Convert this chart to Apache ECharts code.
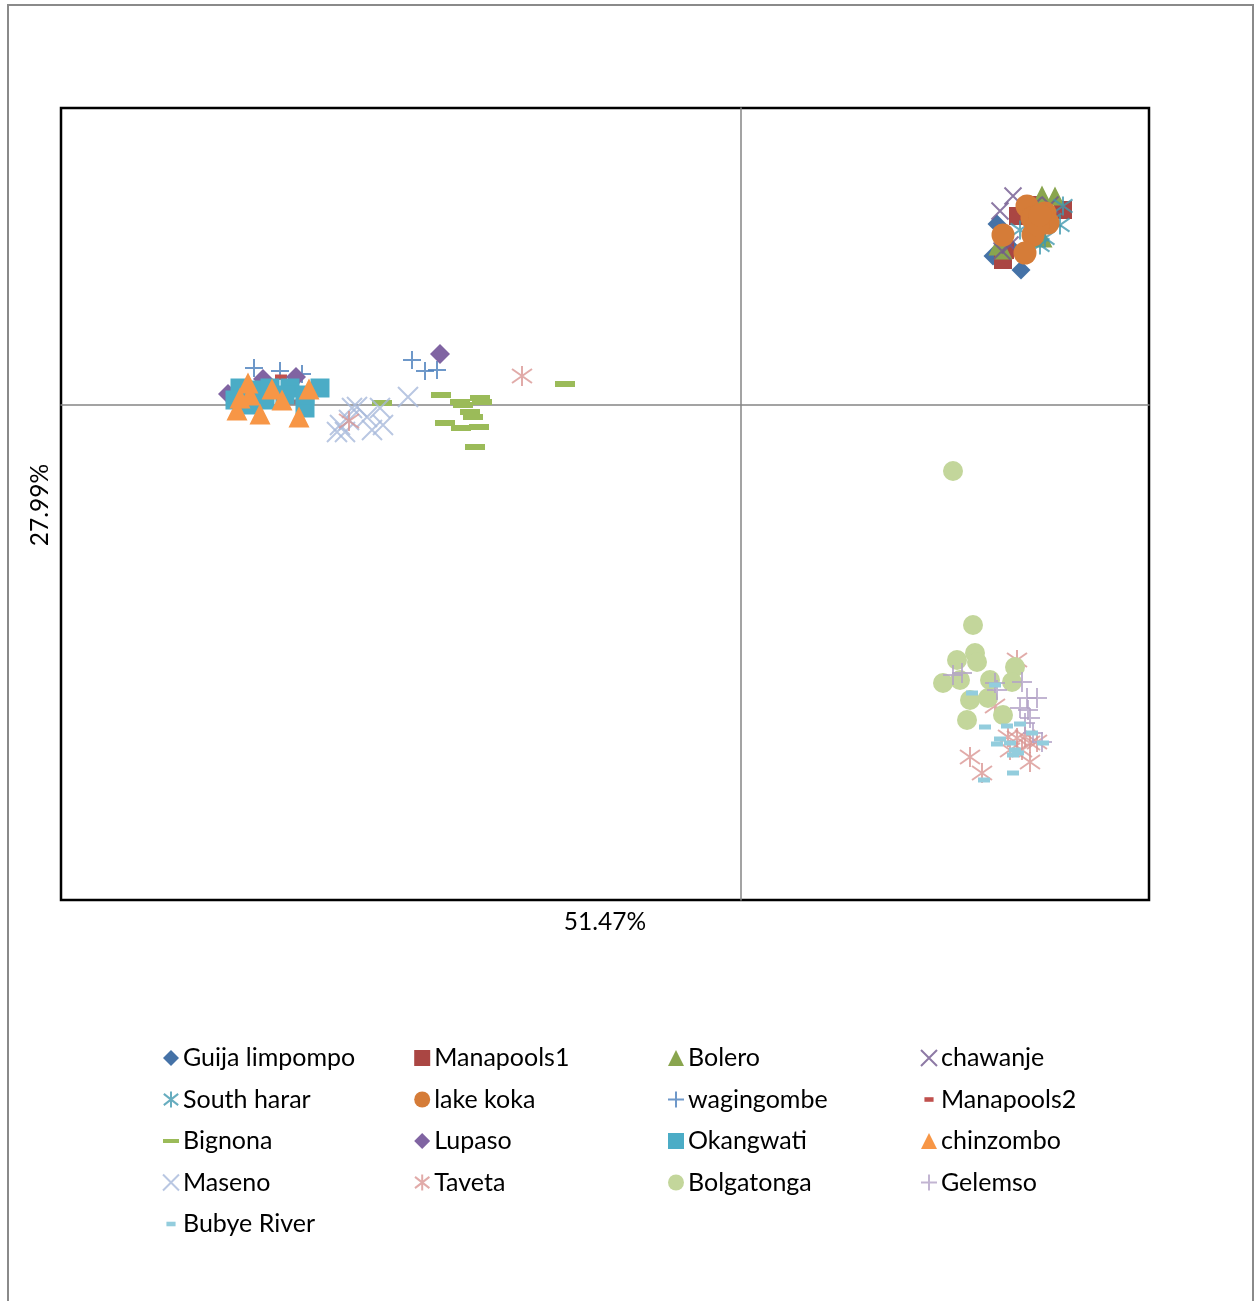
<!DOCTYPE html>
<html>
<head>
<meta charset="utf-8">
<script src="https://cdn.jsdelivr.net/npm/echarts@6/dist/echarts.min.js"></script>
<style>html,body{margin:0;padding:0;background:#fff}#c{width:1255px;height:1301px}</style>
</head>
<body>
<div id="c"></div>
<script>
// PCA scores (arbitrary units)
const xAxisLabel = '51.47%';
const yAxisLabel = '27.99%';
const seriesNames = ['Guija limpompo','Manapools1','Bolero','chawanje','South harar','lake koka','wagingombe','Manapools2','Bignona','Lupaso','Okangwati','chinzombo','Maseno','Taveta','Bolgatonga','Gelemso','Bubye River'];

const guijaLimpompo = [[2.56,1.81],[2.52,1.49],[2.80,1.35],[2.69,1.58]];
const manapools1 = [[2.77,1.89],[2.62,1.45],[3.22,1.95],[2.64,1.55],[2.94,2.00]];
const bolero = [[3.01,2.10],[3.14,2.09],[2.62,1.55],[3.02,1.67],[2.57,1.59]];
const chawanje = [[2.72,2.09],[2.59,1.94],[2.61,1.54],[2.69,1.60],[2.92,1.99],[3.09,2.00]];
const southHarar = [[3.22,1.99],[3.19,1.80],[3.11,1.85],[2.92,1.75],[2.99,1.60],[3.04,1.67],[2.79,1.75]];
const lakeKoka = [[2.86,1.99],[2.91,1.87],[3.04,1.92],[3.07,1.82],[2.62,1.70],[2.92,1.70],[2.84,1.52],[2.97,1.80],[2.99,1.90]];
const wagingombe = [[-4.87,0.37],[-4.61,0.34],[-4.39,0.31],[-3.29,0.45],[-3.16,0.34],[-3.04,0.35]];
const manapools2 = [[-4.60,0.28],[-4.51,0.03]];
const bignona = [[-3.00,0.10],[-2.81,0.03],[-2.78,0.00],[-2.61,0.07],[-2.59,0.03],[-2.71,-0.07],[-2.68,-0.12],[-2.96,-0.18],[-2.80,-0.23],[-2.62,-0.22],[-2.66,-0.42],[-3.59,0.02],[-1.76,0.21]];
const lupaso = [[-5.13,0.11],[-4.78,0.26],[-4.45,0.28],[-4.86,0.12],[-3.01,0.51]];
const okangwati = [[-5.01,0.17],[-4.86,0.15],[-4.71,0.17],[-4.51,0.17],[-4.21,0.17],[-4.91,0.00],[-4.36,-0.03],[-4.56,0.10],[-4.76,0.05],[-5.06,0.05],[-4.36,0.10]];
const chinzombo = [[-4.93,0.22],[-4.69,0.16],[-4.32,0.16],[-5.04,-0.05],[-4.81,-0.09],[-4.59,0.05],[-4.42,-0.12],[-4.91,0.10],[-5.01,0.07]];
const maseno = [[-4.04,-0.27],[-3.96,-0.27],[-3.89,-0.03],[-3.84,-0.02],[-3.69,-0.25],[-3.58,-0.20],[-3.61,-0.03],[-3.33,0.08],[-3.92,-0.15],[-3.74,-0.12],[-4.01,-0.20]];
const taveta = [[-3.92,-0.16],[-2.19,0.29],[2.76,-2.55],[2.54,-3.01],[2.67,-3.32],[2.76,-3.33],[2.84,-3.32],[2.89,-3.38],[2.96,-3.37],[2.69,-3.45],[2.89,-3.57],[2.29,-3.52],[2.41,-3.68],[2.81,-3.45]];
const bolgatonga = [[2.12,-0.66],[2.32,-2.20],[2.16,-2.55],[2.34,-2.48],[2.36,-2.57],[2.02,-2.78],[2.19,-2.75],[2.49,-2.75],[2.74,-2.62],[2.71,-2.77],[2.29,-2.95],[2.47,-2.93],[2.26,-3.15],[2.62,-3.10]];
const gelemso = [[2.12,-2.70],[2.21,-2.68],[2.54,-2.78],[2.81,-2.77],[2.86,-2.93],[2.96,-2.93],[2.79,-3.03],[2.87,-3.05],[2.89,-3.13],[2.84,-3.18],[2.92,-3.28],[3.01,-3.37],[2.56,-2.85]];
const bubyeRiver = [[2.31,-2.88],[2.44,-3.22],[2.66,-3.21],[2.79,-3.19],[2.91,-3.28],[2.59,-3.34],[2.56,-3.39],[2.69,-3.38],[2.77,-3.48],[2.72,-3.50],[2.54,-2.80],[2.72,-3.68],[2.43,-3.75],[3.02,-3.38],[2.74,-3.45]];

const seriesData = [guijaLimpompo, manapools1, bolero, chawanje, southHarar, lakeKoka, wagingombe, manapools2, bignona, lupaso, okangwati, chinzombo, maseno, taveta, bolgatonga, gelemso, bubyeRiver];

const X_PATH = 'path://M0,0L10,10M10,0L0,10';
const PLUS_PATH = 'path://M5,0L5,10M0,5L10,5';
const STAR_PATH = 'path://M0.5,1.5L9.5,8.5M9.5,1.5L0.5,8.5M5,0L5,10';

const styles = [
  {symbol:'diamond', size:19, color:'#4572A7'},
  {symbol:'rect', size:18, color:'#AA4643'},
  {symbol:'triangle', size:19, color:'#89A54E'},
  {symbol:X_PATH, size:17, color:'#71588F', stroke:true},
  {symbol:STAR_PATH, size:19, color:'#4198AF', stroke:true},
  {symbol:'circle', size:23, color:'#D57C38'},
  {symbol:PLUS_PATH, size:18, color:'#4A7EBB', stroke:true},
  {symbol:'rect', size:[12,5], color:'#C0504D', icon:'path://M0,0M14,14M3,5h8v4h-8z'},
  {symbol:'rect', size:[20,6], color:'#9BBB59', icon:'path://M0,0M16,16M0,6h16v4h-16z'},
  {symbol:'diamond', size:20, color:'#8064A2'},
  {symbol:'rect', size:19, color:'#4BACC6'},
  {symbol:'triangle', size:21, color:'#F79646'},
  {symbol:X_PATH, size:20, color:'#A7B9DB', stroke:true},
  {symbol:STAR_PATH, size:20, color:'#D99694', stroke:true},
  {symbol:'circle', size:20, color:'#C3D69B'},
  {symbol:PLUS_PATH, size:20, color:'#B3A2C7', stroke:true},
  {symbol:'rect', size:[12,5], color:'#93CDDD', icon:'path://M0,0M14,14M3,5h8v4h-8z'}
];

const series = seriesNames.map((name, i) => {
  const st = styles[i];
  return {
    name: name,
    type: 'scatter',
    data: seriesData[i],
    symbol: st.symbol,
    symbolSize: st.size,
    itemStyle: st.stroke ? {color: st.color, borderColor: st.color, borderWidth: 2} : {color: st.color, opacity: 1},
    emphasis: {disabled: true},
    animation: false
  };
});

const colX = [162, 414, 667, 920];
const legends = [0,1,2,3].map(c => {
  const items = [];
  for (let i = c; i < seriesNames.length; i += 4) {
    const it = {name: seriesNames[i]};
    if (styles[i].icon) it.icon = styles[i].icon;
    items.push(it);
  }
  return {
    orient: 'vertical',
    left: colX[c],
    top: 1045,
    padding: 0,
    itemWidth: 16,
    itemHeight: 16,
    itemGap: 15.5,
    selectedMode: false,
    data: items,
    textStyle: {fontFamily: 'Lato', fontSize: 25, color: '#000', lineHeight: 26, padding: [0,0,0,-1]}
  };
});

const chart = echarts.init(document.getElementById('c'), null, {renderer: 'canvas'});
chart.setOption({
  animation: false,
  backgroundColor: '#fff',
  grid: {left: 61, top: 108, right: 106, bottom: 401, show: true, borderColor: '#000', borderWidth: 2.5, containLabel: false},
  xAxis: {type: 'value', min: -6.8, max: 4.08, axisLine: {show: true, onZero: true, lineStyle: {color: '#858585', width: 1.5}}, axisTick: {show: false}, axisLabel: {show: false}, splitLine: {show: false}},
  yAxis: {type: 'value', min: -4.95, max: 2.97, axisLine: {show: true, onZero: true, lineStyle: {color: '#858585', width: 1.5}}, axisTick: {show: false}, axisLabel: {show: false}, splitLine: {show: false}},
  legend: legends,
  graphic: [
    {type: 'rect', shape: {x: 8, y: 5, width: 1245, height: 1320}, style: {fill: 'none', stroke: '#8a8a8a', lineWidth: 2}, silent: true},
    {type: 'text', x: 605, y: 922, style: {text: xAxisLabel, fontFamily: 'Lato', fontSize: 24.5, fill: '#000', align: 'center', verticalAlign: 'middle'}},
    {type: 'text', x: 40, y: 505, rotation: Math.PI / 2, style: {text: yAxisLabel, fontFamily: 'Lato', fontSize: 24.5, fill: '#000', align: 'center', verticalAlign: 'middle'}}
  ],
  series: series
});
</script>
</body>
</html>
